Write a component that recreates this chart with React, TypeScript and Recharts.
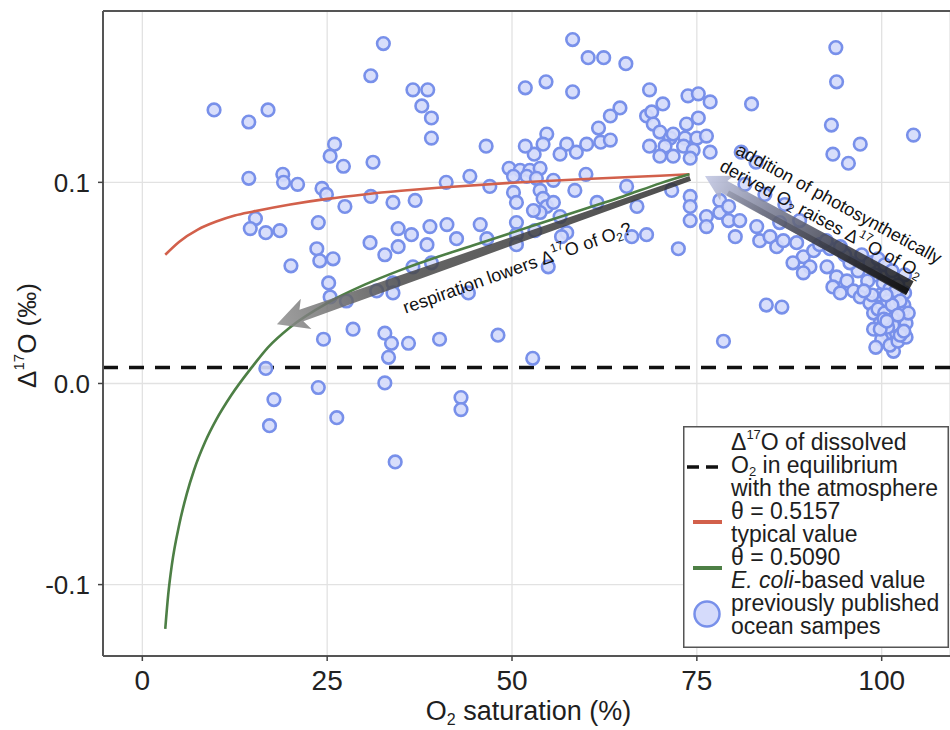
import {
  ComposedChart,
  Scatter,
  Line,
  XAxis,
  YAxis,
  CartesianGrid,
  ReferenceLine,
  Legend,
} from "recharts";

const X_MIN = -5.32;
const X_MAX = 109.24;
const Y_MIN = -0.1355;
const Y_MAX = 0.1852;

const xTicks = [0, 25, 50, 75, 100];
const yTicks = [-0.1, 0, 0.1];

// Δ17O of dissolved O2 in equilibrium with the atmosphere
const equilibrium = 0.008;

// previously published ocean samples: [O2 saturation %, Δ17O ‰]
const oceanSamples: [number, number][] = [
  [32.6, 0.169], [30.9, 0.153], [9.7, 0.136], [14.4, 0.13], [17.0, 0.136],
  [26.0, 0.119], [25.4, 0.113], [27.2, 0.108], [31.2, 0.11], [14.4, 0.102],
  [19.0, 0.104], [19.1, 0.1], [21.0, 0.099], [24.3, 0.097], [24.9, 0.094],
  [30.9, 0.093], [27.4, 0.088], [33.9, 0.09], [15.3, 0.082], [14.6, 0.077],
  [16.7, 0.075], [18.6, 0.076], [23.8, 0.08], [34.6, 0.077], [30.8, 0.07],
  [32.8, 0.064], [23.6, 0.067], [24.0, 0.061], [25.8, 0.062], [20.1, 0.0585],
  [25.2, 0.05], [25.4, 0.043], [27.6, 0.041], [34.6, 0.068], [28.5, 0.027],
  [24.5, 0.022], [32.8, 0.025], [33.7, 0.02], [33.3, 0.013], [16.7, 0.0075],
  [32.8, 0.0003], [23.8, -0.002], [17.8, -0.008], [17.2, -0.021], [26.3, -0.017],
  [34.2, -0.039],
  [58.2, 0.171], [60.3, 0.162], [62.4, 0.162], [65.4, 0.159], [51.8, 0.147],
  [54.6, 0.15], [58.2, 0.145], [68.6, 0.146], [36.6, 0.146], [38.6, 0.146],
  [37.8, 0.138], [39.1, 0.132], [39.1, 0.122], [46.5, 0.118], [64.6, 0.137],
  [63.3, 0.133], [61.7, 0.127], [68.2, 0.133], [68.9, 0.135], [70.4, 0.139],
  [69.1, 0.129], [70.0, 0.125], [71.4, 0.122], [70.7, 0.118], [68.6, 0.118],
  [54.7, 0.124], [54.2, 0.119], [53.0, 0.114], [51.8, 0.118], [57.4, 0.119],
  [58.7, 0.115], [60.1, 0.119], [56.5, 0.114], [62.0, 0.12], [63.3, 0.121],
  [49.6, 0.107], [51.1, 0.106], [52.4, 0.106], [53.8, 0.107], [50.2, 0.103],
  [52.0, 0.103], [53.3, 0.102], [41.1, 0.1], [44.3, 0.103], [47.0, 0.098],
  [60.0, 0.104], [58.5, 0.096], [55.6, 0.101], [50.2, 0.095], [50.6, 0.09],
  [53.8, 0.096], [54.2, 0.092], [54.7, 0.088], [55.6, 0.09], [53.8, 0.085],
  [52.9, 0.086], [36.9, 0.091], [36.4, 0.074], [38.9, 0.078], [41.2, 0.079],
  [45.7, 0.079], [42.5, 0.072], [46.6, 0.072], [38.5, 0.069], [39.1, 0.06],
  [36.6, 0.058], [33.9, 0.05], [33.9, 0.045], [50.6, 0.08], [50.6, 0.074],
  [50.6, 0.069], [53.1, 0.076], [56.5, 0.083], [57.4, 0.075], [61.5, 0.09],
  [65.5, 0.098], [66.9, 0.088], [68.2, 0.074], [66.2, 0.073], [72.5, 0.067],
  [71.6, 0.096], [54.9, 0.058], [56.7, 0.073], [44.1, 0.045], [36.0, 0.02],
  [40.2, 0.022], [48.1, 0.024], [52.8, 0.0125], [43.1, -0.007], [43.1, -0.013],
  [31.7, 0.046],
  [73.8, 0.143], [75.2, 0.144], [76.8, 0.14], [82.4, 0.139], [93.9, 0.15],
  [93.8, 0.167], [93.2, 0.1285], [97.1, 0.119], [93.4, 0.114], [95.5, 0.1095],
  [104.3, 0.1235], [73.6, 0.129], [75.2, 0.132], [71.8, 0.124], [73.4, 0.122],
  [75.0, 0.122], [76.3, 0.123], [73.2, 0.118], [74.5, 0.116], [70.0, 0.113],
  [71.8, 0.113], [74.1, 0.112], [76.8, 0.115], [74.1, 0.093], [74.1, 0.088],
  [74.1, 0.081], [76.3, 0.083], [76.3, 0.078], [78.1, 0.091], [78.1, 0.085],
  [79.3, 0.088], [79.3, 0.081], [80.2, 0.073], [80.8, 0.081], [83.1, 0.078],
  [83.5, 0.071], [84.9, 0.073], [85.8, 0.068], [86.7, 0.071], [88.5, 0.07],
  [89.4, 0.063], [88.0, 0.06], [90.3, 0.058], [90.8, 0.066], [89.4, 0.055],
  [92.6, 0.058], [93.9, 0.053], [93.4, 0.048], [95.3, 0.051], [96.2, 0.046],
  [94.4, 0.045], [97.1, 0.043], [98.4, 0.04], [98.9, 0.035], [99.8, 0.03],
  [98.9, 0.027], [100.7, 0.025], [102.0, 0.025], [102.5, 0.033], [102.9, 0.036],
  [84.4, 0.039], [86.5, 0.038], [78.6, 0.021], [101.6, 0.016],
  [97.3, 0.064], [98.4, 0.06], [99.5, 0.062], [100.4, 0.059], [101.4, 0.056],
  [103.1, 0.054], [99.1, 0.054], [100.2, 0.05], [101.1, 0.047], [102.2, 0.049],
  [103.1, 0.045], [99.8, 0.044], [100.8, 0.041], [101.9, 0.04], [103.0, 0.039],
  [99.5, 0.037], [100.4, 0.035], [101.5, 0.032], [102.5, 0.029], [103.3, 0.03],
  [100.0, 0.022], [101.1, 0.019], [102.2, 0.021], [103.3, 0.023], [101.5, 0.029],
  [100.8, 0.028], [99.8, 0.027], [103.6, 0.035], [101.9, 0.046], [98.1, 0.051],
  [96.8, 0.056], [95.7, 0.06], [95.0, 0.064], [93.0, 0.067], [91.6, 0.069],
  [92.5, 0.071], [94.4, 0.068], [99.2, 0.018], [102.5, 0.024], [100.3, 0.032],
  [98.7, 0.044], [97.6, 0.046], [102.5, 0.041], [101.4, 0.039], [100.6, 0.044],
  [102.2, 0.034], [103.0, 0.026], [100.7, 0.031],
  [81.5, 0.099], [84.2, 0.094], [86.9, 0.089], [88.9, 0.081], [86.2, 0.08],
  [81.0, 0.115], [83.0, 0.11],
];

// θ = 0.5157, typical value
const typicalSat = [3.1, 5, 7.5, 10, 12.5, 15, 20, 25, 30, 35, 40, 50, 60, 70, 74];
const typicalD17O = [0.064, 0.0705, 0.0765, 0.0805, 0.0835, 0.0855, 0.089, 0.0918, 0.094, 0.0958, 0.0973, 0.0998, 0.1017, 0.1033, 0.104];

// θ = 0.5090, E. coli-based value
const ecoliSat = [3.1, 3.5, 4, 5, 6, 7, 8.5, 10, 12, 14.8, 17, 20, 25, 30, 35, 40, 45, 50, 55, 60, 65, 70, 74];
const ecoliD17O = [-0.122, -0.105, -0.09, -0.07, -0.055, -0.043, -0.029, -0.018, -0.006, 0.008, 0.018, 0.028, 0.04, 0.049, 0.0565, 0.063, 0.069, 0.075, 0.081, 0.087, 0.093, 0.0995, 0.104];

// annotation arrows: [tail, tip]
const respirationArrow = [{ x: 74.1, y: 0.102 }, { x: 18.2, y: 0.0295 }];
const photosynthesisArrow = [{ x: 103.8, y: 0.0474 }, { x: 76.1, y: 0.1031 }];

const RED = "#d2604b";
const GREEN = "#4d7f45";
const PT_FILL = "#d5dbfb";
const PT_STROKE = "#7890ea";
const FONT = "'Liberation Sans', Arial, Helvetica, sans-serif";

const samples = oceanSamples.map(([x, y]) => ({ x, y }));
const typicalCurve = typicalSat.map((x, i) => ({ x, y: typicalD17O[i] }));
const ecoliCurve = ecoliSat.map((x, i) => ({ x, y: ecoliD17O[i] }));

const arrowPoints = (
  x1: number, y1: number, x2: number, y2: number,
  wTail: number, wHead: number, headLen: number, headHalf: number, barb: number
) => {
  const L = Math.hypot(x2 - x1, y2 - y1);
  const ux = (x2 - x1) / L;
  const uy = (y2 - y1) / L;
  const nx = -uy;
  const ny = ux;
  const bx = x2 - ux * headLen;
  const by = y2 - uy * headLen;
  const pts = [
    [x1 + nx * wTail / 2, y1 + ny * wTail / 2],
    [bx + nx * wHead / 2, by + ny * wHead / 2],
    [bx - ux * barb + nx * headHalf, by - uy * barb + ny * headHalf],
    [x2, y2],
    [bx - ux * barb - nx * headHalf, by - uy * barb - ny * headHalf],
    [bx - nx * wHead / 2, by - ny * wHead / 2],
    [x1 - nx * wTail / 2, y1 - ny * wTail / 2],
  ];
  return pts.map((p) => p.join(",")).join(" ");
};

const RespirationShape = (props: any) => {
  const { x1, y1, x2, y2 } = props;
  if ([x1, y1, x2, y2].some((v) => typeof v !== "number")) return <g />;
  const dx = x1 - x2;
  const dy = y1 - y2;
  const L = Math.hypot(dx, dy);
  const ux = dx / L;
  const uy = dy / L;
  const deg = (Math.atan2(dy, dx) * 180) / Math.PI;
  const nx = -uy;
  const ny = ux;
  const t = 0.56;
  const cx = x2 + dx * t + nx * 27;
  const cy = y2 + dy * t + ny * 27;
  return (
    <g>
      <defs>
        <linearGradient id="respGrad" gradientUnits="userSpaceOnUse" x1={x1} y1={y1} x2={x2} y2={y2}>
          <stop offset="0%" stopColor="#2f2f2f" />
          <stop offset="70%" stopColor="#4a4a4a" />
          <stop offset="100%" stopColor="#8f8f8f" />
        </linearGradient>
      </defs>
      <polygon
        points={arrowPoints(x1, y1, x2, y2, 5, 12, 26, 16, 5)}
        fill="url(#respGrad)"
        fillOpacity={0.85}
      />
      <text
        x={cx}
        y={cy}
        transform={`rotate(${deg} ${cx} ${cy})`}
        textAnchor="middle"
        dominantBaseline="central"
        fontSize={18}
        fill="#111"
        fontFamily={FONT}
      >
        respiration lowers Δ<tspan dy={-7} fontSize={12}>17</tspan>
        <tspan dy={7}>O of O</tspan>
        <tspan dy={5} fontSize={12}>2</tspan>
        <tspan dy={-5}>?</tspan>
      </text>
    </g>
  );
};

const PhotosynthesisShape = (props: any) => {
  const { x1, y1, x2, y2 } = props;
  if ([x1, y1, x2, y2].some((v) => typeof v !== "number")) return <g />;
  const dx = x1 - x2;
  const dy = y1 - y2;
  const L = Math.hypot(dx, dy);
  const ux = dx / L;
  const uy = dy / L;
  const deg = (Math.atan2(dy, dx) * 180) / Math.PI;
  // normal pointing to the upper right of the arrow
  const nx = uy;
  const ny = -ux;
  const mx = x2 + dx * 0.5 + ux * 6;
  const my = y2 + dy * 0.5 + uy * 6;
  const l2x = mx + nx * 18;
  const l2y = my + ny * 18;
  const l1x = mx + nx * 40 + ux * 8;
  const l1y = my + ny * 40 + uy * 8;
  // dark lower edge of the band
  const ex1 = x1 - nx * 4;
  const ey1 = y1 - ny * 4;
  const ex2 = x2 + dx * 0.12 - nx * 4;
  const ey2 = y2 + dy * 0.12 - ny * 4;
  return (
    <g>
      <defs>
        <linearGradient id="photoGrad" gradientUnits="userSpaceOnUse" x1={x2} y1={y2} x2={x1} y2={y1}>
          <stop offset="0%" stopColor="#c3c8e4" />
          <stop offset="30%" stopColor="#7b7f96" />
          <stop offset="65%" stopColor="#3c3e4a" />
          <stop offset="100%" stopColor="#1c1c1c" />
        </linearGradient>
        <linearGradient id="photoEdge" gradientUnits="userSpaceOnUse" x1={x2} y1={y2} x2={x1} y2={y1}>
          <stop offset="0%" stopColor="#6a6d80" stopOpacity={0.2} />
          <stop offset="100%" stopColor="#111" stopOpacity={0.95} />
        </linearGradient>
      </defs>
      <polygon
        points={arrowPoints(x1, y1, x2, y2, 16, 13, 22, 14, 3)}
        fill="url(#photoGrad)"
        fillOpacity={0.88}
      />
      <line x1={ex1} y1={ey1} x2={ex2} y2={ey2} stroke="url(#photoEdge)" strokeWidth={6} />
      <g fontSize={18} fill="#111" fontFamily={FONT} textAnchor="middle" dominantBaseline="central">
        <text x={l1x} y={l1y} transform={`rotate(${deg} ${l1x} ${l1y})`}>
          addition of photosynthetically
        </text>
        <text x={l2x} y={l2y} transform={`rotate(${deg} ${l2x} ${l2y})`}>
          derived O<tspan dy={5} fontSize={12}>2</tspan>
          <tspan dy={-5}> raises Δ</tspan>
          <tspan dy={-7} fontSize={12}>17</tspan>
          <tspan dy={7}>O of O</tspan>
          <tspan dy={5} fontSize={12}>2</tspan>
        </text>
      </g>
    </g>
  );
};

const XTitle = (props: any) => {
  const vb = props.viewBox || { x: 103, y: 656, width: 847, height: 74 };
  const cx = vb.x + vb.width / 2 + 2;
  const cy = vb.y + 64;
  return (
    <text x={cx} y={cy} textAnchor="middle" fontSize={27} fill="#1e1e1e" fontFamily={FONT}>
      O<tspan dy={5} fontSize={16}>2</tspan>
      <tspan dy={-5}> saturation (%)</tspan>
    </text>
  );
};

const YTitle = (props: any) => {
  const vb = props.viewBox || { x: 0, y: 11, width: 103, height: 645 };
  const cx = vb.x + 27;
  const cy = vb.y + vb.height / 2 + 2;
  return (
    <text
      x={cx}
      y={cy}
      transform={`rotate(-90 ${cx} ${cy})`}
      textAnchor="middle"
      dominantBaseline="central"
      fontSize={26}
      fill="#1e1e1e"
      fontFamily={FONT}
    >
      Δ<tspan dy={-9} fontSize={15}>17</tspan>
      <tspan dy={9}>O (‰)</tspan>
    </text>
  );
};

const legendLines = [15.5, 38.5, 61.5, 84.5, 107.5, 130.5, 153.5, 176.5, 199.5];

const LegendBox = () => (
  <svg width={266} height={222} style={{ display: "block", overflow: "visible" }}>
    <rect x={0.75} y={0.75} width={264.5} height={220.5} fill="#fff" stroke="#555" strokeWidth={1.5} />
    <line x1={4} x2={37} y1={41} y2={41} stroke="#111" strokeWidth={3.5} strokeDasharray="12 7" />
    <line x1={10} x2={39} y1={96} y2={96} stroke={RED} strokeWidth={4} />
    <line x1={10} x2={39} y1={142} y2={142} stroke={GREEN} strokeWidth={4} />
    <circle cx={24} cy={188} r={12.5} fill={PT_FILL} stroke={PT_STROKE} strokeWidth={2.5} />
    <g fontSize={23} fill="#1e1e1e" fontFamily={FONT} dominantBaseline="central">
      <text x={48} y={legendLines[0]}>
        Δ<tspan dy={-8} fontSize={13}>17</tspan>
        <tspan dy={8}>O of dissolved</tspan>
      </text>
      <text x={48} y={legendLines[1]}>
        O<tspan dy={6} fontSize={13}>2</tspan>
        <tspan dy={-6}> in equilibrium</tspan>
      </text>
      <text x={48} y={legendLines[2]}>with the atmosphere</text>
      <text x={48} y={legendLines[3]}>θ = 0.5157</text>
      <text x={48} y={legendLines[4]}>typical value</text>
      <text x={48} y={legendLines[5]}>θ = 0.5090</text>
      <text x={48} y={legendLines[6]}>
        <tspan fontStyle="italic">E. coli</tspan>-based value
      </text>
      <text x={48} y={legendLines[7]}>previously published</text>
      <text x={48} y={legendLines[8]}>ocean sampes</text>
    </g>
  </svg>
);

const SamplePoint = (props: any) => (
  <circle cx={props.cx} cy={props.cy} r={6.3} fill={PT_FILL} fillOpacity={0.92} stroke={PT_STROKE} strokeWidth={2.6} />
);

export default function App() {
  return (
    <div style={{ position: "absolute", left: 0, top: 0, width: 950, height: 730, background: "#fff", fontFamily: FONT }}>
      <ComposedChart width={950} height={730} margin={{ top: 11, right: 0, bottom: 0, left: 0 }}>
        <CartesianGrid stroke="#e2e2e2" strokeWidth={1.3} />
        <XAxis
          type="number"
          dataKey="x"
          domain={[X_MIN, X_MAX]}
          ticks={xTicks}
          interval={0}
          allowDataOverflow
          height={74}
          tickSize={5}
          tickMargin={9}
          tick={{ fontSize: 28, fill: "#222", fontFamily: FONT }}
          tickLine={{ stroke: "#444", strokeWidth: 1.5 }}
          axisLine={{ stroke: "#555", strokeWidth: 2 }}
          label={(p: any) => <XTitle {...p} />}
        />
        <YAxis
          type="number"
          dataKey="y"
          domain={[Y_MIN, Y_MAX]}
          ticks={yTicks}
          interval={0}
          allowDataOverflow
          width={103}
          tickSize={5}
          tickMargin={8}
          tickFormatter={(v: number) => v.toFixed(1)}
          tick={{ fontSize: 26, fill: "#222", fontFamily: FONT }}
          tickLine={{ stroke: "#444", strokeWidth: 1.5 }}
          axisLine={{ stroke: "#555", strokeWidth: 2 }}
          label={(p: any) => <YTitle {...p} />}
        />
        <ReferenceLine y={Y_MAX} stroke="#555" strokeWidth={2} ifOverflow="visible" />
        <ReferenceLine y={equilibrium} stroke="#111" strokeWidth={3.5} strokeDasharray="15 11" />
        <Scatter data={samples} shape={SamplePoint} isAnimationActive={false} />
        <Line
          data={typicalCurve}
          dataKey="y"
          type="monotone"
          stroke={RED}
          strokeWidth={2.6}
          dot={false}
          activeDot={false}
          isAnimationActive={false}
          zIndex={700}
        />
        <Line
          data={ecoliCurve}
          dataKey="y"
          type="monotone"
          stroke={GREEN}
          strokeWidth={2.6}
          dot={false}
          activeDot={false}
          isAnimationActive={false}
          zIndex={700}
        />
        <ReferenceLine segment={respirationArrow} shape={RespirationShape} ifOverflow="visible" zIndex={800} />
        <ReferenceLine segment={photosynthesisArrow} shape={PhotosynthesisShape} ifOverflow="visible" zIndex={800} />
        <Legend
          layout="vertical"
          align="center"
          verticalAlign="middle"
          content={() => <LegendBox />}
          wrapperStyle={{ left: 683, top: 426, width: 266, height: 222 }}
        />
      </ComposedChart>
    </div>
  );
}
